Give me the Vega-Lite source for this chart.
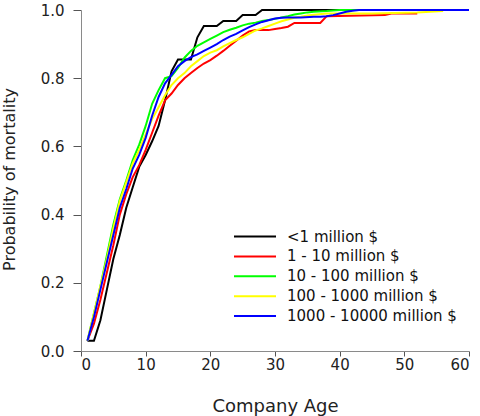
{
  "$schema": "https://vega.github.io/schema/vega-lite/v6.json",
  "width": 388,
  "height": 341,
  "autosize": {"type": "none"},
  "padding": {"left": 81, "top": 10, "right": 11, "bottom": 65},
  "background": "white",
  "config": {
    "view": {"stroke": null},
    "font": "DejaVu Sans",
    "axis": {
      "grid": false,
      "domainColor": "#8a8a8a",
      "tickColor": "#555555",
      "labelColor": "#222222",
      "titleColor": "#222222",
      "labelFont": "DejaVu Sans",
      "titleFont": "DejaVu Sans",
      "titleFontWeight": "normal",
      "labelFontSize": 15
    }
  },
  "datasets": {
    "mort": [
      {"s": "<1 million $", "a": 1, "p": 0.03},
      {"s": "<1 million $", "a": 2, "p": 0.03},
      {"s": "<1 million $", "a": 3, "p": 0.09},
      {"s": "<1 million $", "a": 4, "p": 0.18},
      {"s": "<1 million $", "a": 5, "p": 0.27},
      {"s": "<1 million $", "a": 6, "p": 0.34},
      {"s": "<1 million $", "a": 7, "p": 0.42},
      {"s": "<1 million $", "a": 8, "p": 0.48},
      {"s": "<1 million $", "a": 9, "p": 0.54},
      {"s": "<1 million $", "a": 10, "p": 0.575},
      {"s": "<1 million $", "a": 11, "p": 0.615},
      {"s": "<1 million $", "a": 12, "p": 0.66},
      {"s": "<1 million $", "a": 13, "p": 0.735},
      {"s": "<1 million $", "a": 14, "p": 0.82},
      {"s": "<1 million $", "a": 15, "p": 0.855},
      {"s": "<1 million $", "a": 16, "p": 0.855},
      {"s": "<1 million $", "a": 17, "p": 0.855},
      {"s": "<1 million $", "a": 18, "p": 0.92},
      {"s": "<1 million $", "a": 19, "p": 0.953},
      {"s": "<1 million $", "a": 20, "p": 0.953},
      {"s": "<1 million $", "a": 21, "p": 0.953},
      {"s": "<1 million $", "a": 22, "p": 0.968},
      {"s": "<1 million $", "a": 23, "p": 0.968},
      {"s": "<1 million $", "a": 24, "p": 0.968},
      {"s": "<1 million $", "a": 25, "p": 0.985},
      {"s": "<1 million $", "a": 26, "p": 0.985},
      {"s": "<1 million $", "a": 27, "p": 0.985},
      {"s": "<1 million $", "a": 28, "p": 1.0},
      {"s": "<1 million $", "a": 46, "p": 1.0},

      {"s": "1 - 10 million $", "a": 1, "p": 0.03},
      {"s": "1 - 10 million $", "a": 2, "p": 0.08},
      {"s": "1 - 10 million $", "a": 3, "p": 0.15},
      {"s": "1 - 10 million $", "a": 4, "p": 0.23},
      {"s": "1 - 10 million $", "a": 5, "p": 0.31},
      {"s": "1 - 10 million $", "a": 6, "p": 0.40},
      {"s": "1 - 10 million $", "a": 7, "p": 0.46},
      {"s": "1 - 10 million $", "a": 8, "p": 0.51},
      {"s": "1 - 10 million $", "a": 9, "p": 0.545},
      {"s": "1 - 10 million $", "a": 10, "p": 0.59},
      {"s": "1 - 10 million $", "a": 11, "p": 0.64},
      {"s": "1 - 10 million $", "a": 12, "p": 0.69},
      {"s": "1 - 10 million $", "a": 13, "p": 0.735},
      {"s": "1 - 10 million $", "a": 14, "p": 0.755},
      {"s": "1 - 10 million $", "a": 15, "p": 0.78},
      {"s": "1 - 10 million $", "a": 16, "p": 0.80},
      {"s": "1 - 10 million $", "a": 17, "p": 0.815},
      {"s": "1 - 10 million $", "a": 18, "p": 0.83},
      {"s": "1 - 10 million $", "a": 19, "p": 0.843},
      {"s": "1 - 10 million $", "a": 20, "p": 0.853},
      {"s": "1 - 10 million $", "a": 21, "p": 0.866},
      {"s": "1 - 10 million $", "a": 22, "p": 0.88},
      {"s": "1 - 10 million $", "a": 23, "p": 0.895},
      {"s": "1 - 10 million $", "a": 24, "p": 0.91},
      {"s": "1 - 10 million $", "a": 25, "p": 0.925},
      {"s": "1 - 10 million $", "a": 26, "p": 0.937},
      {"s": "1 - 10 million $", "a": 27, "p": 0.941},
      {"s": "1 - 10 million $", "a": 29, "p": 0.941},
      {"s": "1 - 10 million $", "a": 30, "p": 0.944},
      {"s": "1 - 10 million $", "a": 31, "p": 0.947},
      {"s": "1 - 10 million $", "a": 32, "p": 0.951},
      {"s": "1 - 10 million $", "a": 33, "p": 0.962},
      {"s": "1 - 10 million $", "a": 37, "p": 0.962},
      {"s": "1 - 10 million $", "a": 38, "p": 0.982},
      {"s": "1 - 10 million $", "a": 47, "p": 0.985},
      {"s": "1 - 10 million $", "a": 48, "p": 0.99},
      {"s": "1 - 10 million $", "a": 52, "p": 0.99},

      {"s": "10 - 100 million $", "a": 1, "p": 0.03},
      {"s": "10 - 100 million $", "a": 2, "p": 0.11},
      {"s": "10 - 100 million $", "a": 3, "p": 0.19},
      {"s": "10 - 100 million $", "a": 4, "p": 0.28},
      {"s": "10 - 100 million $", "a": 5, "p": 0.37},
      {"s": "10 - 100 million $", "a": 6, "p": 0.445},
      {"s": "10 - 100 million $", "a": 7, "p": 0.50},
      {"s": "10 - 100 million $", "a": 8, "p": 0.56},
      {"s": "10 - 100 million $", "a": 9, "p": 0.605},
      {"s": "10 - 100 million $", "a": 10, "p": 0.66},
      {"s": "10 - 100 million $", "a": 11, "p": 0.725},
      {"s": "10 - 100 million $", "a": 12, "p": 0.765},
      {"s": "10 - 100 million $", "a": 13, "p": 0.80},
      {"s": "10 - 100 million $", "a": 14, "p": 0.806},
      {"s": "10 - 100 million $", "a": 15, "p": 0.83},
      {"s": "10 - 100 million $", "a": 16, "p": 0.86},
      {"s": "10 - 100 million $", "a": 17, "p": 0.88},
      {"s": "10 - 100 million $", "a": 18, "p": 0.895},
      {"s": "10 - 100 million $", "a": 19, "p": 0.905},
      {"s": "10 - 100 million $", "a": 20, "p": 0.915},
      {"s": "10 - 100 million $", "a": 21, "p": 0.925},
      {"s": "10 - 100 million $", "a": 22, "p": 0.935},
      {"s": "10 - 100 million $", "a": 23, "p": 0.942},
      {"s": "10 - 100 million $", "a": 24, "p": 0.948},
      {"s": "10 - 100 million $", "a": 25, "p": 0.955},
      {"s": "10 - 100 million $", "a": 26, "p": 0.96},
      {"s": "10 - 100 million $", "a": 27, "p": 0.963},
      {"s": "10 - 100 million $", "a": 28, "p": 0.968},
      {"s": "10 - 100 million $", "a": 29, "p": 0.971},
      {"s": "10 - 100 million $", "a": 30, "p": 0.974},
      {"s": "10 - 100 million $", "a": 31, "p": 0.978},
      {"s": "10 - 100 million $", "a": 32, "p": 0.982},
      {"s": "10 - 100 million $", "a": 33, "p": 0.987},
      {"s": "10 - 100 million $", "a": 34, "p": 0.99},
      {"s": "10 - 100 million $", "a": 35, "p": 0.993},
      {"s": "10 - 100 million $", "a": 36, "p": 0.995},
      {"s": "10 - 100 million $", "a": 38, "p": 0.997},
      {"s": "10 - 100 million $", "a": 40, "p": 1.0},
      {"s": "10 - 100 million $", "a": 48, "p": 1.0},

      {"s": "100 - 1000 million $", "a": 1, "p": 0.03},
      {"s": "100 - 1000 million $", "a": 2, "p": 0.11},
      {"s": "100 - 1000 million $", "a": 3, "p": 0.19},
      {"s": "100 - 1000 million $", "a": 4, "p": 0.27},
      {"s": "100 - 1000 million $", "a": 5, "p": 0.36},
      {"s": "100 - 1000 million $", "a": 6, "p": 0.44},
      {"s": "100 - 1000 million $", "a": 7, "p": 0.495},
      {"s": "100 - 1000 million $", "a": 8, "p": 0.55},
      {"s": "100 - 1000 million $", "a": 9, "p": 0.59},
      {"s": "100 - 1000 million $", "a": 10, "p": 0.635},
      {"s": "100 - 1000 million $", "a": 11, "p": 0.68},
      {"s": "100 - 1000 million $", "a": 12, "p": 0.715},
      {"s": "100 - 1000 million $", "a": 13, "p": 0.75},
      {"s": "100 - 1000 million $", "a": 14, "p": 0.78},
      {"s": "100 - 1000 million $", "a": 15, "p": 0.80},
      {"s": "100 - 1000 million $", "a": 16, "p": 0.815},
      {"s": "100 - 1000 million $", "a": 17, "p": 0.835},
      {"s": "100 - 1000 million $", "a": 18, "p": 0.85},
      {"s": "100 - 1000 million $", "a": 19, "p": 0.865},
      {"s": "100 - 1000 million $", "a": 20, "p": 0.875},
      {"s": "100 - 1000 million $", "a": 21, "p": 0.882},
      {"s": "100 - 1000 million $", "a": 22, "p": 0.893},
      {"s": "100 - 1000 million $", "a": 23, "p": 0.903},
      {"s": "100 - 1000 million $", "a": 24, "p": 0.912},
      {"s": "100 - 1000 million $", "a": 25, "p": 0.92},
      {"s": "100 - 1000 million $", "a": 26, "p": 0.93},
      {"s": "100 - 1000 million $", "a": 27, "p": 0.94},
      {"s": "100 - 1000 million $", "a": 28, "p": 0.946},
      {"s": "100 - 1000 million $", "a": 29, "p": 0.953},
      {"s": "100 - 1000 million $", "a": 30, "p": 0.96},
      {"s": "100 - 1000 million $", "a": 31, "p": 0.967},
      {"s": "100 - 1000 million $", "a": 32, "p": 0.972},
      {"s": "100 - 1000 million $", "a": 33, "p": 0.977},
      {"s": "100 - 1000 million $", "a": 34, "p": 0.98},
      {"s": "100 - 1000 million $", "a": 35, "p": 0.984},
      {"s": "100 - 1000 million $", "a": 36, "p": 0.986},
      {"s": "100 - 1000 million $", "a": 38, "p": 0.99},
      {"s": "100 - 1000 million $", "a": 45, "p": 0.99},
      {"s": "100 - 1000 million $", "a": 52, "p": 0.993},
      {"s": "100 - 1000 million $", "a": 56, "p": 0.997},

      {"s": "1000 - 10000 million $", "a": 1, "p": 0.03},
      {"s": "1000 - 10000 million $", "a": 2, "p": 0.10},
      {"s": "1000 - 10000 million $", "a": 3, "p": 0.18},
      {"s": "1000 - 10000 million $", "a": 4, "p": 0.26},
      {"s": "1000 - 10000 million $", "a": 5, "p": 0.34},
      {"s": "1000 - 10000 million $", "a": 6, "p": 0.42},
      {"s": "1000 - 10000 million $", "a": 7, "p": 0.475},
      {"s": "1000 - 10000 million $", "a": 8, "p": 0.535},
      {"s": "1000 - 10000 million $", "a": 9, "p": 0.575},
      {"s": "1000 - 10000 million $", "a": 10, "p": 0.625},
      {"s": "1000 - 10000 million $", "a": 11, "p": 0.69},
      {"s": "1000 - 10000 million $", "a": 12, "p": 0.745},
      {"s": "1000 - 10000 million $", "a": 13, "p": 0.785},
      {"s": "1000 - 10000 million $", "a": 14, "p": 0.81},
      {"s": "1000 - 10000 million $", "a": 15, "p": 0.835},
      {"s": "1000 - 10000 million $", "a": 16, "p": 0.85},
      {"s": "1000 - 10000 million $", "a": 17, "p": 0.862},
      {"s": "1000 - 10000 million $", "a": 18, "p": 0.87},
      {"s": "1000 - 10000 million $", "a": 19, "p": 0.88},
      {"s": "1000 - 10000 million $", "a": 20, "p": 0.89},
      {"s": "1000 - 10000 million $", "a": 21, "p": 0.90},
      {"s": "1000 - 10000 million $", "a": 22, "p": 0.912},
      {"s": "1000 - 10000 million $", "a": 23, "p": 0.922},
      {"s": "1000 - 10000 million $", "a": 24, "p": 0.93},
      {"s": "1000 - 10000 million $", "a": 25, "p": 0.94},
      {"s": "1000 - 10000 million $", "a": 26, "p": 0.95},
      {"s": "1000 - 10000 million $", "a": 27, "p": 0.958},
      {"s": "1000 - 10000 million $", "a": 28, "p": 0.965},
      {"s": "1000 - 10000 million $", "a": 29, "p": 0.97},
      {"s": "1000 - 10000 million $", "a": 30, "p": 0.975},
      {"s": "1000 - 10000 million $", "a": 31, "p": 0.977},
      {"s": "1000 - 10000 million $", "a": 32, "p": 0.978},
      {"s": "1000 - 10000 million $", "a": 34, "p": 0.978},
      {"s": "1000 - 10000 million $", "a": 36, "p": 0.98},
      {"s": "1000 - 10000 million $", "a": 37, "p": 0.98},
      {"s": "1000 - 10000 million $", "a": 38, "p": 0.982},
      {"s": "1000 - 10000 million $", "a": 39, "p": 0.985},
      {"s": "1000 - 10000 million $", "a": 40, "p": 0.99},
      {"s": "1000 - 10000 million $", "a": 41, "p": 0.995},
      {"s": "1000 - 10000 million $", "a": 42, "p": 0.998},
      {"s": "1000 - 10000 million $", "a": 43, "p": 1.0},
      {"s": "1000 - 10000 million $", "a": 60, "p": 1.0}
    ]
  },
  "data": {"name": "mort"},
  "mark": {"type": "line", "strokeWidth": 2, "clip": false},
  "encoding": {
    "x": {
      "field": "a",
      "type": "quantitative",
      "scale": {"domain": [0, 60], "nice": false, "zero": false},
      "axis": {
        "title": "Company Age",
        "values": [0, 10, 20, 30, 40, 50, 60],
        "tickSize": 5,
        "labelPadding": 1,
        "titleFontSize": 18,
        "titleBaseline": "alphabetic",
        "titleY": 60
      }
    },
    "y": {
      "field": "p",
      "type": "quantitative",
      "scale": {"domain": [0, 1], "nice": false},
      "axis": {
        "title": "Probability of mortality",
        "values": [0, 0.2, 0.4, 0.6, 0.8, 1.0],
        "format": ".1f",
        "tickSize": 8,
        "labelPadding": 9,
        "titleFontSize": 16,
        "titleBaseline": "middle",
        "titleX": -72,
        "titleY": 169
      }
    },
    "color": {
      "field": "s",
      "type": "nominal",
      "scale": {
        "domain": ["<1 million $", "1 - 10 million $", "10 - 100 million $", "100 - 1000 million $", "1000 - 10000 million $"],
        "range": ["#000000", "#ff0000", "#00ff00", "#ffff00", "#0000ff"]
      },
      "legend": {
        "title": null,
        "orient": "none",
        "legendX": 166,
        "legendY": 218.5,
        "padding": 0,
        "symbolType": "M-3,0H3",
        "symbolSize": 196,
        "symbolStrokeWidth": 2,
        "labelFont": "DejaVu Sans",
        "labelFontSize": 15,
        "labelColor": "#111111",
        "labelOffset": 24,
        "labelLimit": 300,
        "rowPadding": 3.9
      }
    }
  }
}
